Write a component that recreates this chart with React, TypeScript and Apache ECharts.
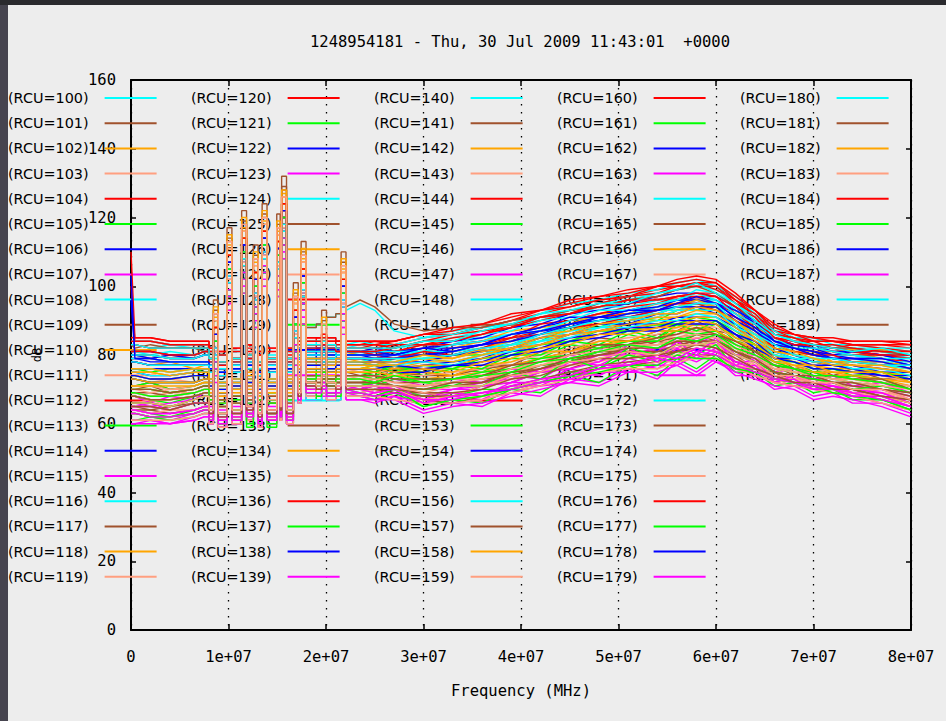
import { useEffect, useRef } from "react";
import * as echarts from "echarts";

const TITLE = "1248954181 - Thu, 30 Jul 2009 11:43:01  +0000";
const X_NAME = "Frequency (MHz)";
const Y_NAME = "dB";
const X_MIN = 0;
const X_MAX = 8e7;
const X_STEP = 1e7;
const Y_MIN = 0;
const Y_MAX = 160;
const Y_STEP = 20;

const FREQ_HZ = [
  0, 0.4e6, 2e6, 4e6, 6.5e6, 7.5e6,
  8.0e6, 8.45e6, 8.95e6, 9.85e6, 10.35e6, 11.35e6, 11.85e6, 12.55e6, 13.05e6, 13.45e6, 13.95e6, 14.95e6, 15.3e6, 15.45e6, 15.95e6, 16.65e6, 17.15e6, 17.45e6,
  17.95e6, 19.0e6, 19.55e6, 20.05e6, 21.0e6, 21.55e6, 22.05e6,
  23.5e6, 25e6, 27e6,
  30e6, 33e6, 36e6, 39e6, 42e6, 45e6, 48e6, 51e6, 54e6, 56e6, 58e6, 60e6, 62e6, 64e6, 66e6, 68e6, 70e6, 72e6, 74e6, 77e6, 80e6,
];
// indices of the RFI band (7.5 MHz .. 22 MHz), drawn as steps like the original channel data
const RFI_FIRST = 5;
const RFI_LAST = 30;

const RCU_IDS = [
  100, 101, 102, 103, 104, 105, 106, 107, 108, 109, 110, 111, 112, 113, 114, 115, 116, 117, 118, 119,
  120, 121, 122, 123, 124, 125, 126, 127, 128, 129, 130, 131, 132, 133, 134, 135, 136, 137, 138, 139,
  140, 141, 142, 143, 144, 145, 146, 147, 148, 149, 150, 151, 152, 153, 154, 155, 156, 157, 158, 159,
  160, 161, 162, 163, 164, 165, 166, 167, 168, 169, 170, 171, 172, 173, 174, 175, 176, 177, 178, 179,
  180, 181, 182, 183, 184, 185, 186, 187, 188, 189, 190, 191,
];

const PALETTE = ["#00ffff", "#a0522d", "#ffa500", "#ff9f80", "#ff0000", "#00ff00", "#0000ff", "#ff00ff"];

const rcu100 = [83,83,82,83,82,81, 79,80,78,101,77,106,78,96,76,108,77,105,79,116,78,85,80,97, 83,84,85,83,82,94,82, 83,82,82, 84,85,87,89,90,93,95,96,98,99,100,99,95,91,86,84,83,82,82,82,81];
const rcu101 = [71,71,72,70,71,72, 69,76,68,97,67,102,69,92,68,104,67,101,70,112,68,81,72,93, 75,74,76,75,76,90,75, 74,75,76, 75,74,77,77,81,81,85,84,87,87,90,87,86,81,80,76,77,74,76,73,73];
const rcu102 = [78,78,77,78,76,77, 75,82,74,103,73,108,75,98,74,110,73,107,75,118,74,87,78,99, 80,79,80,81,79,96,79, 78,79,78, 80,81,82,84,87,88,90,92,93,94,95,94,90,87,83,81,80,79,79,78,77];
const rcu103 = [73,73,72,73,72,73, 70,78,69,99,70,104,71,94,69,106,70,103,71,114,70,83,74,95, 76,77,78,76,75,92,76, 75,76,75, 76,77,78,79,82,85,85,88,87,89,91,89,86,83,80,78,77,77,76,74,73];
const rcu104 = [100,84,84,83,83,83, 81,84,80,105,79,110,81,100,80,112,79,109,81,120,80,89,82,101, 84,85,86,84,84,98,83, 83,84,83, 85,86,88,90,92,94,96,97,99,100,101,100,96,92,87,85,84,84,83,83,82];
const rcu105 = [76,76,75,76,76,75, 73,78,72,97,71,102,73,92,72,104,71,101,74,112,72,81,77,93, 79,78,80,79,80,90,78, 78,77,79, 79,80,80,83,84,88,88,91,90,93,93,94,88,86,82,80,79,78,78,77,76];
const rcu106 = [96,80,80,79,79,80, 77,81,76,102,75,107,77,97,76,109,75,106,78,117,76,86,80,98, 81,82,83,81,80,95,81, 81,80,81, 82,83,84,86,88,90,92,93,95,96,97,96,93,89,85,83,82,81,81,80,79];
const rcu107 = [68,68,66,68,67,69, 65,74,64,95,65,100,66,90,64,102,65,99,66,110,65,79,70,91, 72,73,74,71,72,88,72, 72,71,73, 71,73,72,76,75,80,78,83,81,85,83,86,80,80,75,76,73,74,71,72,69];
const rcu108 = [80,80,80,79,79,80, 77,79,76,99,77,104,76,94,77,106,76,103,78,114,77,83,80,95, 81,81,82,82,81,92,81, 80,81,81, 81,83,85,86,87,90,91,93,94,96,96,96,92,89,84,83,82,81,80,80,79];
const rcu109 = [68,68,67,67,68,69, 66,80,65,101,66,106,67,96,65,108,66,105,67,116,66,85,70,97, 72,71,73,72,73,94,72, 72,73,71, 71,72,73,74,77,78,81,81,84,83,86,84,82,78,77,74,74,72,72,70,69];
const rcu110 = [75,75,75,74,75,75, 72,86,71,107,72,112,73,102,71,114,72,111,73,122,72,91,76,103, 78,77,79,78,78,100,77, 77,78,76, 78,78,80,82,84,86,88,89,90,91,92,92,88,85,81,80,79,78,77,76,75];
const rcu111 = [69,69,68,69,69,70, 67,81,66,102,67,107,68,97,66,109,67,106,68,117,67,86,71,98, 73,74,75,73,72,95,73, 73,72,74, 72,73,74,77,78,80,82,82,85,85,87,86,83,80,77,76,75,73,73,72,70];
const rcu112 = [81,81,81,80,80,81, 78,82,77,103,78,108,79,98,77,110,78,107,79,118,78,87,81,99, 82,83,84,82,82,96,81, 81,82,81, 83,84,86,88,90,92,94,95,96,97,98,98,94,90,85,84,83,82,81,81,80];
const rcu113 = [71,71,72,70,71,72, 68,74,67,93,68,98,67,88,68,100,67,97,69,108,67,77,72,89, 75,76,77,74,75,86,75, 75,74,76, 74,76,75,79,79,83,82,86,84,89,87,89,84,83,78,78,75,76,74,75,72];
const rcu114 = [78,78,77,77,77,77, 75,78,74,99,75,104,76,94,74,106,75,103,76,114,75,83,79,95, 80,79,81,80,80,92,79, 79,78,79, 80,80,82,83,86,88,89,91,92,94,94,94,90,86,83,81,80,79,78,78,76];
const rcu115 = [65,65,66,64,66,66, 63,76,62,97,63,102,64,92,62,104,63,101,64,112,63,81,68,93, 71,70,72,71,70,90,70, 71,69,70, 68,70,70,74,73,78,77,81,79,84,81,84,78,78,73,74,71,72,69,70,67];
const rcu116 = [84,84,84,83,83,83, 81,84,80,105,81,110,80,100,81,112,80,109,82,120,81,89,83,101, 84,84,85,85,83,98,83, 84,83,83, 85,87,88,89,92,95,96,98,99,101,102,100,97,92,88,85,85,83,83,82,82];
const rcu117 = [70,70,71,69,70,71, 68,78,67,99,68,104,69,94,67,106,68,103,69,114,68,83,72,95, 74,75,76,73,74,92,74, 74,73,75, 74,74,76,77,79,81,83,83,86,86,88,87,84,81,78,76,75,74,74,72,71];
const rcu118 = [80,80,79,80,79,80, 77,84,76,105,77,110,78,100,76,112,77,109,78,120,77,89,80,101, 81,82,83,81,81,98,80, 81,80,81, 82,82,84,87,88,89,92,92,95,95,97,95,93,88,85,82,81,81,81,79,78];
const rcu119 = [66,66,67,65,67,68, 64,80,63,101,64,106,65,96,63,108,64,105,65,116,64,85,70,97, 72,71,73,72,71,94,71, 71,72,70, 70,71,72,73,76,77,80,80,82,82,85,83,82,77,76,73,73,71,71,69,68];
const rcu120 = [85,85,85,84,84,84, 82,86,81,107,82,112,83,102,81,114,82,111,83,122,82,91,84,103, 85,85,86,85,84,100,84, 84,84,84, 86,87,89,91,93,95,97,98,100,101,102,101,97,93,88,86,85,84,84,84,83];
const rcu121 = [68,68,67,66,68,69, 66,82,65,103,66,108,67,98,65,110,66,107,67,118,66,87,70,99, 72,73,74,72,71,96,72, 72,71,73, 72,71,74,75,77,78,81,82,83,84,86,85,81,79,76,75,74,73,72,71,69];
const rcu122 = [81,81,81,80,80,81, 78,80,77,101,78,106,79,96,77,108,78,105,79,116,78,85,81,97, 82,82,83,82,82,94,81, 81,82,81, 82,84,85,88,89,92,93,95,97,98,98,97,94,89,85,83,83,81,81,80,80];
const rcu123 = [63,63,62,61,63,64, 61,74,60,95,61,100,62,90,60,102,61,99,62,110,61,79,67,91, 69,68,70,69,70,88,69, 68,69,70, 66,68,67,71,71,75,74,78,76,80,78,81,76,76,72,73,70,71,68,68,65];
const rcu124 = [78,78,77,77,77,77, 75,78,74,97,75,102,76,92,74,104,75,101,76,112,75,81,79,93, 80,80,81,79,80,90,79, 79,79,78, 79,80,81,84,85,88,90,90,93,93,95,93,89,87,82,80,79,79,79,77,77];
const rcu125 = [65,65,64,65,66,66, 63,82,62,103,63,108,64,98,62,110,63,107,64,118,63,87,68,99, 71,70,72,70,71,96,70, 70,71,69, 69,68,71,72,75,76,79,79,81,81,84,82,80,76,75,72,72,70,70,68,67];
const rcu126 = [73,73,72,72,72,73, 70,88,69,109,70,114,71,104,69,116,70,113,71,124,70,93,74,105, 76,76,77,75,76,102,76, 76,75,76, 76,76,78,80,82,84,86,87,88,89,90,90,86,83,80,78,77,76,76,75,73];
const rcu127 = [71,71,71,70,71,72, 69,84,68,105,69,110,70,100,68,112,69,109,70,120,69,89,73,101, 75,74,76,75,75,98,75, 75,76,74, 74,75,76,78,80,82,84,85,86,88,89,88,85,82,79,77,76,75,75,74,72];
const rcu128 = [83,83,82,82,82,82, 79,80,78,101,79,106,80,96,78,108,79,105,80,116,79,85,82,97, 83,83,84,83,82,94,82, 82,83,82, 84,86,87,88,91,93,94,96,97,99,101,99,96,91,87,84,84,82,83,82,81];
const rcu129 = [74,74,73,73,74,74, 71,78,70,99,71,104,72,94,70,106,71,103,72,114,71,83,75,95, 77,77,78,76,77,92,76, 76,77,75, 77,76,79,80,83,84,87,87,89,89,91,90,87,83,80,79,78,77,76,75,74];
const rcu130 = [75,75,74,74,75,75, 72,82,71,103,72,108,73,98,71,110,72,107,73,118,72,87,76,99, 78,78,79,77,78,96,77, 77,77,76, 77,78,79,82,83,86,87,89,89,91,91,91,88,84,81,79,78,77,77,75,75];
const rcu131 = [66,66,65,66,67,68, 64,78,63,99,64,104,65,94,63,106,64,103,65,114,64,83,69,95, 72,71,73,72,71,92,71, 70,72,71, 70,70,72,73,76,77,80,80,82,82,85,83,80,78,75,74,73,72,71,70,68];
const rcu132 = [81,81,80,81,80,81, 78,82,77,103,78,108,79,98,77,110,78,107,79,118,78,87,81,99, 82,82,83,82,81,96,81, 81,81,82, 83,83,86,87,90,91,94,94,96,96,99,98,93,90,86,84,82,82,82,81,79];
const rcu133 = [69,69,69,68,69,70, 67,86,66,107,67,112,68,102,66,114,67,111,68,122,67,91,71,103, 73,72,74,73,73,100,73, 73,74,72, 72,73,74,76,78,80,82,83,84,85,86,86,83,80,77,76,75,74,73,72,70];
const rcu134 = [76,76,76,75,76,76, 73,84,72,105,73,110,74,100,72,112,73,109,74,120,73,89,77,101, 79,79,80,78,79,98,78, 78,78,77, 79,79,81,83,85,87,89,90,91,93,94,93,89,86,82,80,79,78,78,77,76];
const rcu135 = [65,65,65,64,66,66, 63,80,62,101,63,106,64,96,62,108,63,105,64,116,63,85,68,97, 71,70,72,71,70,94,70, 70,69,71, 69,68,71,73,75,77,78,80,80,82,83,83,79,77,74,73,72,71,70,69,67];
const rcu136 = [79,79,79,78,78,78, 76,78,75,99,76,104,77,94,75,106,76,103,77,114,76,83,79,95, 80,80,81,80,80,92,80, 80,80,79, 81,81,83,85,87,89,91,92,94,95,96,95,92,88,84,82,81,80,80,79,78];
const rcu137 = [64,64,63,62,64,65, 62,76,61,97,62,102,61,92,62,104,61,101,63,112,62,81,67,93, 70,69,71,70,69,90,70, 69,70,70, 68,68,70,70,73,75,76,80,78,81,80,83,76,76,74,72,71,70,70,68,66];
const rcu138 = [79,79,78,78,78,78, 76,78,75,97,76,102,77,92,75,104,76,101,77,112,76,81,79,93, 80,81,82,80,79,90,80, 80,79,80, 80,82,83,84,87,88,91,91,93,95,95,95,91,88,83,82,81,80,79,79,77];
const rcu139 = [60,60,61,60,61,62, 60,72,59,93,60,98,61,88,59,100,60,97,61,108,60,77,66,89, 67,68,69,67,68,86,67, 67,66,68, 64,66,65,69,68,73,72,76,73,78,75,79,74,74,70,71,68,69,66,66,63];
const rcu140 = [79,79,79,78,78,78, 76,80,75,101,76,106,77,96,75,108,76,105,77,116,76,85,79,97, 80,80,81,80,80,94,80, 80,80,80, 81,81,82,85,86,89,90,92,94,94,96,94,92,87,84,81,80,80,80,78,78];
const rcu141 = [63,63,62,62,63,64, 61,84,60,105,61,110,62,100,60,112,61,109,62,120,61,89,67,101, 69,69,70,68,69,98,69, 69,68,70, 67,66,68,70,72,74,76,77,78,79,80,80,77,75,73,72,71,70,69,67,65];
const rcu142 = [70,70,70,69,70,71, 68,86,67,107,68,112,69,102,67,114,68,111,69,122,68,91,72,103, 74,74,75,73,74,100,74, 74,73,74, 73,74,75,77,79,81,83,84,85,87,88,87,84,81,78,76,75,74,74,73,71];
const rcu143 = [70,70,69,70,70,71, 68,82,67,103,68,108,69,98,67,110,68,107,69,118,68,87,72,99, 74,73,75,74,74,96,74, 73,74,74, 72,73,75,76,78,81,82,84,84,86,87,87,83,80,78,75,75,73,73,72,71];
const rcu144 = [84,84,84,83,83,83, 81,82,80,103,81,108,82,98,80,110,81,107,82,118,81,87,83,99, 84,84,85,84,83,96,83, 83,83,84, 86,86,88,90,93,94,96,97,100,100,101,101,96,93,87,86,84,84,83,83,83];
const rcu145 = [70,70,70,69,70,71, 68,80,67,101,68,106,67,96,68,108,67,105,69,116,68,85,72,97, 74,75,76,73,74,94,74, 74,73,75, 73,73,75,76,79,80,82,84,84,87,86,87,83,81,78,76,75,73,74,73,70];
const rcu146 = [76,76,76,76,76,76, 73,84,72,105,73,110,74,100,72,112,73,109,74,120,73,89,77,101, 79,79,80,78,79,98,78, 78,78,78, 78,80,81,82,85,86,89,89,92,92,94,92,89,85,82,80,78,78,77,76,75];
const rcu147 = [64,64,63,63,64,65, 62,78,61,99,62,104,63,94,61,106,62,103,63,114,62,83,67,95, 70,69,71,70,70,92,70, 69,70,71, 67,69,68,72,72,76,74,79,77,82,79,82,76,77,72,73,70,71,69,69,66];
const rcu148 = [83,83,82,82,82,82, 79,80,78,101,79,106,80,96,78,108,79,105,80,116,79,85,84,97, 88,89,90,91,92,94,93, 95,93,87, 85,86,88,89,91,92,95,97,98,99,100,100,95,91,87,84,83,83,82,81,81];
const rcu149 = [83,82,83,82,82,81, 79,92,78,113,79,118,80,108,78,120,79,117,80,128,79,97,85,109, 88,89,90,91,92,106,94, 96,94,89, 87,88,88,90,91,93,94,96,97,99,100,98,94,90,86,85,83,82,82,81,80];
const rcu150 = [74,74,73,73,74,74, 71,90,70,111,71,116,72,106,70,118,71,115,72,126,71,95,75,107, 77,77,78,76,77,104,76, 76,77,76, 77,77,79,81,83,85,87,88,89,90,91,91,87,84,80,79,78,77,76,75,74];
const rcu151 = [63,63,62,62,63,64, 61,82,60,103,61,108,62,98,60,110,61,107,62,118,61,87,67,99, 69,68,70,69,69,96,69, 69,70,68, 67,67,68,69,72,73,76,76,78,78,80,79,77,74,73,71,71,69,69,67,65];
const rcu152 = [80,80,80,79,79,80, 77,80,76,101,77,106,78,96,76,108,77,105,78,116,77,85,80,97, 81,81,82,81,81,94,81, 81,80,81, 83,83,84,85,89,90,92,94,95,97,97,97,92,89,85,84,82,81,80,80,79];
const rcu153 = [61,61,62,61,62,63, 60,76,59,97,60,102,59,92,60,104,59,101,61,112,60,81,66,93, 68,67,69,68,67,90,68, 68,67,69, 65,67,66,70,69,74,72,77,74,79,76,80,75,75,71,72,69,70,67,67,64];
const rcu154 = [80,80,79,80,79,80, 77,78,76,99,77,104,78,94,76,106,77,103,78,114,77,83,80,95, 81,82,83,81,81,92,81, 81,81,80, 82,82,83,86,88,91,91,93,94,96,96,95,93,90,84,83,82,80,81,80,78];
const rcu155 = [61,61,61,60,62,63, 60,80,59,101,60,106,61,96,59,108,60,105,61,116,60,85,66,97, 68,68,69,67,68,94,68, 68,67,68, 66,66,67,69,71,72,75,75,77,77,80,78,76,74,72,71,70,69,68,66,64];
const rcu156 = [76,76,76,75,76,76, 73,78,72,99,73,104,74,94,72,106,73,103,74,114,73,83,77,95, 79,79,80,78,79,92,78, 78,79,78, 79,78,80,83,84,87,88,90,91,93,93,93,88,86,81,79,79,77,78,77,76];
const rcu157 = [66,66,66,65,67,68, 64,86,63,107,64,112,65,102,63,114,64,111,65,122,64,91,69,103, 72,71,73,72,72,100,71, 71,72,71, 70,71,72,74,76,78,80,81,81,83,84,84,81,78,75,74,73,72,71,70,68];
const rcu158 = [78,78,77,77,77,77, 75,88,74,109,75,114,76,104,74,116,75,113,76,124,75,93,78,105, 80,80,81,79,80,102,79, 79,79,79, 80,79,82,84,86,87,90,91,92,94,96,94,90,86,83,81,81,78,78,78,76];
const rcu159 = [68,68,67,67,68,69, 66,84,65,105,66,110,67,100,65,112,66,109,67,120,66,89,70,101, 72,72,73,72,72,98,72, 72,72,71, 71,72,73,75,77,79,81,82,83,84,85,85,82,79,76,75,74,73,72,71,69];
const rcu160 = [83,83,82,82,82,82, 79,84,78,105,79,110,80,100,78,112,79,109,80,120,79,89,82,101, 83,83,84,83,82,98,82, 82,82,83, 83,85,86,89,91,92,95,97,98,100,100,100,95,92,86,85,83,83,82,81,81];
const rcu161 = [73,73,72,72,72,73, 70,80,69,101,70,106,69,96,70,108,69,105,71,116,70,85,74,97, 76,76,77,75,76,94,76, 76,75,77, 75,77,76,80,80,84,83,87,85,89,87,90,85,83,79,78,76,76,75,75,73];
const rcu162 = [74,74,73,73,74,74, 71,82,70,103,71,108,72,98,70,110,71,107,72,118,71,87,75,99, 77,77,78,76,77,96,76, 76,76,77, 76,77,78,81,82,85,86,88,88,90,90,90,86,84,79,79,77,77,76,74,74];
const rcu163 = [65,65,65,64,66,66, 63,80,62,101,63,106,64,96,62,108,63,105,64,116,63,85,68,97, 71,70,72,71,71,94,70, 70,71,70, 67,70,71,72,75,76,78,82,78,84,80,85,77,79,72,74,72,71,70,69,66];
const rcu164 = [80,80,80,79,79,80, 77,82,76,103,77,108,78,98,76,110,77,107,78,118,77,87,80,99, 81,81,82,81,80,96,81, 81,81,81, 81,83,84,86,87,90,93,93,95,96,98,96,92,89,85,82,82,81,80,79,79];
const rcu165 = [64,64,64,63,64,65, 62,84,61,105,62,110,63,100,61,112,62,109,63,120,62,89,68,101, 70,70,71,69,70,98,70, 70,70,69, 68,68,69,71,73,75,77,78,79,81,82,81,78,76,74,72,71,70,70,68,66];
const rcu166 = [71,71,71,71,71,72, 69,90,68,111,69,116,70,106,68,118,69,115,70,126,69,95,73,107, 75,75,76,74,75,104,75, 75,75,74, 75,74,77,78,81,81,84,84,87,87,89,87,84,82,78,77,75,75,74,73,72];
const rcu167 = [64,64,63,64,64,65, 62,86,61,107,62,112,63,102,61,114,62,111,63,122,62,91,68,103, 70,69,71,70,70,100,70, 70,69,70, 67,68,69,70,73,74,77,77,79,80,82,81,77,76,73,72,71,70,69,68,66];
const rcu168 = [78,78,77,77,77,77, 75,82,74,103,75,108,76,98,74,110,75,107,76,118,75,87,79,99, 80,80,81,79,80,96,79, 79,79,79, 81,80,82,85,86,88,89,91,93,95,95,93,91,87,82,81,80,80,78,77,77];
const rcu169 = [66,66,66,65,67,68, 64,78,63,99,64,104,63,94,64,106,63,103,65,114,64,83,69,95, 72,71,73,71,72,92,71, 71,72,71, 70,71,71,75,73,79,76,82,80,83,83,84,80,78,75,74,73,72,70,71,69];
const rcu170 = [78,78,77,77,77,77, 75,84,74,105,75,110,76,100,74,112,75,109,76,120,75,89,79,101, 80,80,81,79,80,98,79, 79,79,79, 80,81,83,84,86,89,90,92,93,94,94,94,90,87,83,82,80,79,79,78,76];
const rcu171 = [60,60,60,60,61,62, 60,76,59,97,60,102,61,92,59,104,60,101,61,112,60,81,66,93, 67,67,68,67,67,90,67, 67,67,67, 63,65,66,68,70,72,71,75,75,77,74,78,75,73,71,70,67,68,67,65,62];
const rcu172 = [75,75,74,74,75,75, 72,80,71,101,72,106,73,96,71,108,72,105,73,116,67,85,67,97, 67,67,78,67,67,94,77, 77,77,77, 78,77,80,81,84,85,88,88,90,90,92,91,87,85,80,79,78,78,76,76,74];
const rcu173 = [70,70,70,69,70,71, 68,88,67,109,68,114,69,104,67,116,68,113,69,124,68,93,72,105, 74,74,75,73,74,102,74, 74,74,73, 73,73,74,77,78,80,83,83,85,86,88,86,84,81,77,76,74,74,73,73,70];
const rcu174 = [75,75,75,74,75,75, 72,88,71,109,72,114,73,104,71,116,72,113,73,124,72,93,76,105, 78,78,79,77,78,102,77, 77,77,77, 79,78,80,82,83,86,87,89,91,91,93,92,88,84,81,80,79,77,77,76,75];
const rcu175 = [61,61,61,61,62,63, 60,84,59,105,60,110,61,100,59,112,60,109,61,120,60,89,66,101, 68,68,69,67,68,98,68, 68,68,67, 66,66,67,69,71,73,75,76,76,78,79,79,76,74,72,71,70,69,68,66,64];
const rcu176 = [81,81,81,80,80,81, 78,84,77,105,78,110,79,100,77,112,78,109,79,120,78,89,81,101, 82,82,83,82,81,98,81, 81,81,82, 84,84,86,88,91,92,94,96,96,97,98,97,94,91,85,83,83,82,81,80,80];
const rcu177 = [63,63,62,62,63,64, 61,82,60,103,61,108,60,98,61,110,60,107,62,118,61,87,67,99, 69,68,70,69,68,96,69, 69,68,70, 65,67,68,70,72,74,75,77,77,80,79,79,76,75,73,72,71,69,68,67,64];
const rcu178 = [73,73,72,72,72,73, 70,86,69,107,70,112,71,102,69,114,70,111,71,122,70,91,74,103, 76,76,77,75,76,100,76, 76,76,75, 75,77,77,80,81,84,85,87,87,89,89,89,86,82,79,78,76,76,75,74,73];
const rcu179 = [63,63,62,62,63,64, 61,82,60,103,61,108,62,98,60,110,61,107,62,118,61,87,67,99, 69,69,70,68,69,96,69, 69,68,69, 67,67,69,70,72,73,76,77,79,78,81,80,77,75,73,72,70,70,69,67,65];
const rcu180 = [83,83,82,82,82,82, 79,84,78,105,79,110,80,100,78,112,79,109,80,120,79,89,82,101, 83,83,84,83,82,98,82, 82,82,82, 84,84,87,89,92,93,95,95,98,99,101,98,95,90,86,84,83,82,81,82,80];
const rcu181 = [68,68,67,67,68,69, 66,93,65,114,66,119,67,109,65,121,66,118,67,129,66,98,70,110, 72,72,73,72,72,107,72, 72,72,71, 70,72,72,75,76,79,80,82,82,84,84,84,81,79,75,74,74,72,72,70,69];
const rcu182 = [73,73,72,72,72,73, 70,91,69,112,70,117,71,107,69,119,70,116,71,127,70,96,74,108, 76,76,77,75,76,105,76, 76,76,75, 76,75,78,79,82,83,86,86,88,88,90,89,85,83,79,77,77,75,75,75,72];
const rcu183 = [69,69,68,68,69,70, 67,90,66,111,67,116,68,106,66,118,67,115,68,126,67,95,71,107, 73,73,74,72,73,104,73, 73,73,72, 71,73,73,76,77,80,81,83,83,85,86,85,82,80,76,76,74,73,73,71,70];
const rcu184 = [110,85,85,84,84,84, 82,88,81,109,82,114,83,104,81,116,82,113,83,124,82,93,84,105, 85,85,86,85,84,102,84, 84,84,84, 86,88,89,92,93,96,97,99,100,102,103,102,98,93,89,86,85,85,84,84,84];
const rcu185 = [69,69,68,68,69,70, 67,84,66,105,67,110,66,100,67,112,66,109,68,120,67,89,71,101, 73,74,75,72,73,98,73, 73,72,74, 72,73,74,75,78,79,81,83,82,85,84,86,82,80,77,76,74,74,73,72,70];
const rcu186 = [103,79,79,78,78,78, 76,86,75,107,76,112,77,102,75,114,76,111,77,122,76,91,79,103, 80,80,81,80,80,100,80, 80,80,80, 82,81,83,86,87,89,91,93,93,95,97,95,91,88,84,82,81,79,79,79,77];
const rcu187 = [64,64,63,63,64,65, 62,78,61,99,62,104,63,94,61,106,62,103,63,114,62,83,67,95, 70,70,71,69,70,92,70, 70,69,70, 66,68,69,71,73,74,77,77,80,79,82,81,78,76,74,72,71,70,68,68,65];
const rcu188 = [78,78,77,77,77,77, 75,82,74,103,75,108,76,98,74,110,75,107,76,118,75,87,79,99, 80,80,81,79,80,96,79, 79,79,79, 79,80,82,83,86,88,90,91,92,94,95,95,89,86,83,80,79,79,78,77,77];
const rcu189 = [65,65,65,64,66,66, 63,96,62,117,63,122,64,112,62,124,63,121,64,132,63,101,68,113, 71,70,93,71,70,110,70, 70,70,70, 69,69,70,73,74,77,79,79,80,81,83,82,79,76,74,72,72,70,70,68,67];
const rcu190 = [76,76,76,75,76,76, 73,94,72,115,73,120,74,110,72,122,73,119,74,128,73,99,77,111, 79,79,91,78,79,108,78, 78,78,78, 80,79,81,82,85,86,89,90,92,92,94,93,90,85,82,81,79,78,77,77,75];
const rcu191 = [66,66,66,65,67,68, 64,92,63,113,64,118,65,108,63,120,64,117,65,126,64,97,69,109, 72,71,89,72,71,106,71, 71,71,71, 69,71,71,74,75,78,79,81,80,83,83,84,80,78,74,74,72,72,70,70,67];

const RCU_VALUES = [
  rcu100, rcu101, rcu102, rcu103, rcu104, rcu105, rcu106, rcu107, rcu108, rcu109,
  rcu110, rcu111, rcu112, rcu113, rcu114, rcu115, rcu116, rcu117, rcu118, rcu119,
  rcu120, rcu121, rcu122, rcu123, rcu124, rcu125, rcu126, rcu127, rcu128, rcu129,
  rcu130, rcu131, rcu132, rcu133, rcu134, rcu135, rcu136, rcu137, rcu138, rcu139,
  rcu140, rcu141, rcu142, rcu143, rcu144, rcu145, rcu146, rcu147, rcu148, rcu149,
  rcu150, rcu151, rcu152, rcu153, rcu154, rcu155, rcu156, rcu157, rcu158, rcu159,
  rcu160, rcu161, rcu162, rcu163, rcu164, rcu165, rcu166, rcu167, rcu168, rcu169,
  rcu170, rcu171, rcu172, rcu173, rcu174, rcu175, rcu176, rcu177, rcu178, rcu179,
  rcu180, rcu181, rcu182, rcu183, rcu184, rcu185, rcu186, rcu187, rcu188, rcu189,
  rcu190, rcu191,
];

const MONO = "'DejaVu Sans Mono', 'Liberation Mono', monospace";
const SANS = "'DejaVu Sans', 'Noto Sans', sans-serif";

export default function App() {
  const ref = useRef<HTMLDivElement>(null);

  useEffect(() => {
    if (!ref.current) return;
    const chart = echarts.init(ref.current, undefined, { renderer: "svg" });
    const names = RCU_IDS.map((id) => `(RCU=${id})`);

    const series: any[] = [];
    RCU_IDS.forEach((id, i) => {
      const color = PALETTE[(id - 100) % 8];
      const vals = RCU_VALUES[i];
      const common = {
        name: names[i],
        type: "line",
        xAxisIndex: 0,
        yAxisIndex: 0,
        showSymbol: false,
        symbol: "none",
        silent: true,
        lineStyle: { width: 1.4, color },
        itemStyle: { color },
        emphasis: { disabled: true },
        z: 3,
      };
      // spectral band outside the RFI region
      series.push({
        ...common,
        connectNulls: false,
        data: FREQ_HZ.map((f, j) => [f, j > RFI_FIRST && j < RFI_LAST ? null : vals[j]]),
      });
      // RFI region drawn channel-like (each value held until the next channel)
      series.push({
        ...common,
        step: "end",
        data: FREQ_HZ.slice(RFI_FIRST, RFI_LAST + 1).map((f, k) => [f, vals[RFI_FIRST + k]]),
      });
    });

    const legends = [0, 1, 2, 3, 4].map((c) => ({
      show: true,
      orient: "vertical",
      align: "right",
      left: 8 + c * 183,
      top: 91,
      padding: 0,
      itemGap: 11.2,
      itemWidth: 52,
      itemHeight: 2,
      icon: "rect",
      selectedMode: false,
      z: 1,
      data: names.slice(c * 20, c * 20 + 20),
      textStyle: {
        fontFamily: SANS,
        fontSize: 14.4,
        color: "#000",
        lineHeight: 14,
        padding: [0, 11, 0, 0],
      },
    }));

    const monoText = { fontFamily: MONO, fontSize: 15.5, color: "#000" };

    chart.setOption({
      animation: false,
      backgroundColor: "#ededed",
      textStyle: { fontFamily: MONO },
      grid: { left: 131, right: 35, top: 80, bottom: 91, containLabel: false },
      legend: legends,
      graphic: [
        { type: "rect", z: 100, shape: { x: 0, y: 0, width: 8, height: 721 }, style: { fill: "#46444f" } },
        { type: "rect", z: 100, shape: { x: 0, y: 0, width: 946, height: 5 }, style: { fill: "#2a2a2e" } },
        {
          type: "text",
          z: 100,
          x: 520,
          y: 42,
          style: {
            text: TITLE,
            align: "center",
            verticalAlign: "middle",
            fontFamily: MONO,
            fontSize: 15.5,
            fill: "#000",
          },
        },
      ],
      xAxis: [
        {
          type: "value",
          position: "bottom",
          min: X_MIN,
          max: X_MAX,
          interval: X_STEP,
          name: X_NAME,
          nameLocation: "middle",
          nameGap: 53,
          nameTextStyle: monoText,
          axisLine: { show: true, onZero: false, lineStyle: { color: "#000", width: 2 } },
          axisTick: { show: true, inside: true, length: 6, lineStyle: { color: "#000", width: 1.5 } },
          axisLabel: {
            ...monoText,
            margin: 19,
            showMinLabel: true,
            showMaxLabel: true,
            formatter: (v: number) => (v === 0 ? "0" : `${Math.round(v / 1e7)}e+07`),
          },
          splitLine: { show: true, lineStyle: { color: "#000", width: 1.3, type: [1.5, 6.5] } },
        },
        {
          type: "value",
          position: "top",
          min: X_MIN,
          max: X_MAX,
          interval: X_STEP,
          axisLine: { show: true, onZero: false, lineStyle: { color: "#000", width: 2 } },
          axisTick: { show: true, inside: true, length: 6, lineStyle: { color: "#000", width: 1.5 } },
          axisLabel: { show: false },
          splitLine: { show: false },
        },
      ],
      yAxis: [
        {
          type: "value",
          position: "left",
          min: Y_MIN,
          max: Y_MAX,
          interval: Y_STEP,
          name: Y_NAME,
          nameLocation: "middle",
          nameGap: 88,
          nameRotate: 90,
          nameTextStyle: { fontFamily: MONO, fontSize: 12, color: "#000" },
          axisLine: { show: true, onZero: false, lineStyle: { color: "#000", width: 2 } },
          axisTick: { show: true, inside: true, length: 5, lineStyle: { color: "#000", width: 1.5 } },
          axisLabel: { ...monoText, margin: 15 },
          splitLine: { show: false },
        },
        {
          type: "value",
          position: "right",
          min: Y_MIN,
          max: Y_MAX,
          interval: Y_STEP,
          axisLine: { show: true, onZero: false, lineStyle: { color: "#000", width: 2 } },
          axisTick: { show: true, inside: true, length: 5, lineStyle: { color: "#000", width: 1.5 } },
          axisLabel: { show: false },
          splitLine: { show: false },
        },
      ],
      series,
    });

    return () => chart.dispose();
  }, []);

  return (
    <div
      ref={ref}
      style={{ position: "fixed", left: 0, top: 0, width: 946, height: 721 }}
    />
  );
}
